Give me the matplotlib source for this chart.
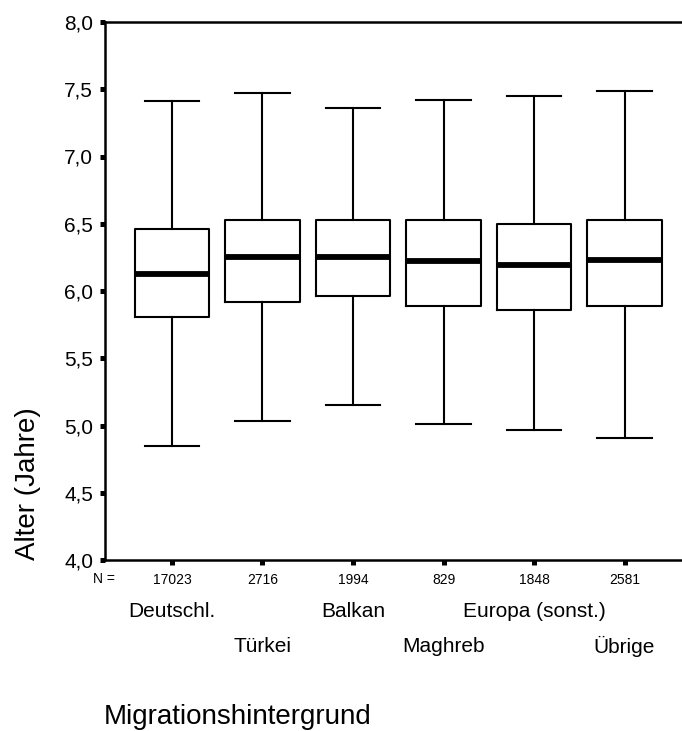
import numpy as np
import matplotlib
matplotlib.use('Agg')
import matplotlib.pyplot as plt
from matplotlib.ticker import FuncFormatter

plt.rcParams['font.family'] = ['Liberation Sans', 'DejaVu Sans']

# Box plot summary per group
#################
groups = ['Deutschl.', 'Türkei', 'Balkan', 'Maghreb', 'Europa (sonst.)', 'Übrige']
n_cases = [17023, 2716, 1994, 829, 1848, 2581]
whisker_low = [4.85, 5.03, 5.15, 5.01, 4.97, 4.91]
q1 = [5.81, 5.92, 5.96, 5.89, 5.86, 5.89]
median = [6.13, 6.25, 6.25, 6.22, 6.19, 6.23]
q3 = [6.46, 6.53, 6.53, 6.53, 6.50, 6.53]
whisker_high = [7.41, 7.47, 7.36, 7.42, 7.45, 7.49]
#################

stats = []
for i in range(len(groups)):
    stats.append({'label': groups[i], 'whislo': whisker_low[i], 'q1': q1[i],
                  'med': median[i], 'q3': q3[i], 'whishi': whisker_high[i],
                  'fliers': []})

positions = np.arange(1, len(groups) + 1)

fig = plt.figure(figsize=(6.82, 7.31), dpi=100)
ax = fig.add_axes([105/682, 1 - 560/731, 1 - 105/682, 538/731])

ax.bxp(stats, positions=positions, widths=0.82, showfliers=False,
       boxprops=dict(color='black', linewidth=1.5),
       whiskerprops=dict(color='black', linewidth=1.5),
       capprops=dict(color='black', linewidth=1.5),
       medianprops=dict(color='black', linewidth=4.2, solid_capstyle='butt'),
       capwidths=0.6)

ax.set_xlim(0.26, 6.635)
ax.set_ylim(4.0, 8.0)
ax.set_yticks(np.arange(4.0, 8.01, 0.5))
ax.yaxis.set_major_formatter(FuncFormatter(lambda v, p: ('%.1f' % v).replace('.', ',')))
ax.set_xticks(positions)
ax.set_xticklabels([str(n) for n in n_cases])

ax.spines['right'].set_visible(False)
for s in ['left', 'bottom', 'top']:
    ax.spines[s].set_linewidth(1.8)

ax.tick_params(axis='y', length=3.6, width=3.6, labelsize=15, pad=5)
ax.tick_params(axis='x', length=3.6, width=3.6, labelsize=10, pad=6)

# group names in two staggered rows
for i, g in enumerate(groups):
    yrow = -0.096 if i % 2 == 0 else -0.161
    ax.text(positions[i], yrow, g, transform=ax.get_xaxis_transform(),
            ha='center', va='center', fontsize=15)

fig.text(104/682, 1 - 579/731, 'N =', ha='center', va='center', fontsize=10)
fig.text(28/682, 1 - 484/731, 'Alter (Jahre)', rotation=90,
         ha='center', va='center', fontsize=20)
fig.text(104/682, 1 - 717/731, 'Migrationshintergrund', ha='left',
         va='center', fontsize=20)

plt.savefig('out.png', dpi=100)
plt.close()
